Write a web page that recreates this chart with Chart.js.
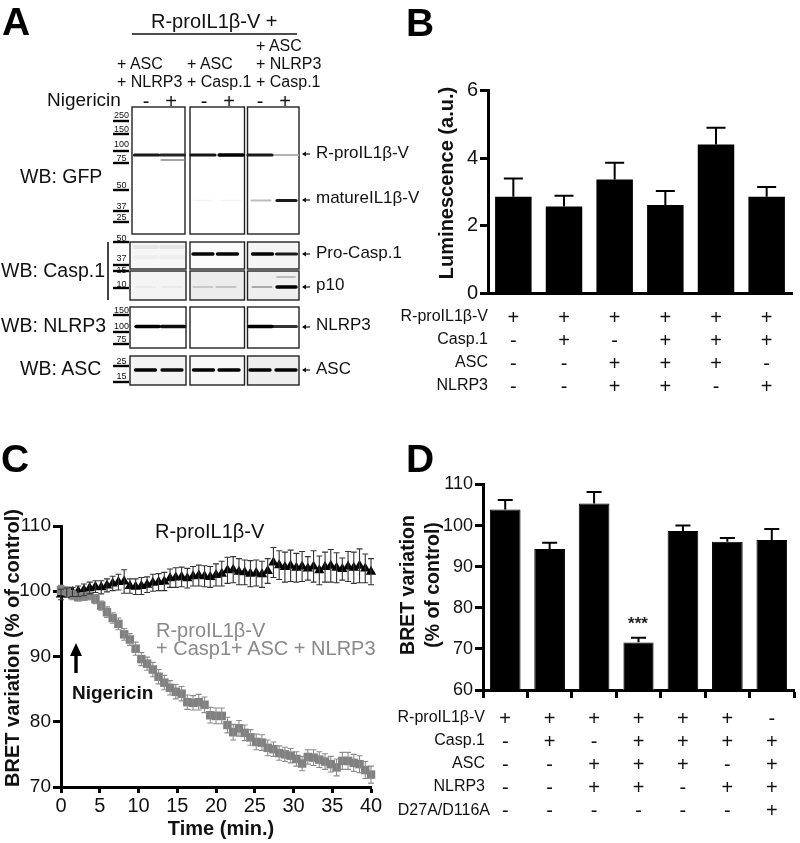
<!DOCTYPE html>
<html><head><meta charset="utf-8">
<style>
html,body{margin:0;padding:0;background:#fff;width:800px;height:843px;overflow:hidden}
#fig{position:relative;width:800px;height:843px;font-family:"Liberation Sans",Arial,sans-serif;color:#111;filter:blur(0.35px);background:#fff}
canvas,svg{position:absolute}
.t{position:absolute;white-space:nowrap;line-height:1}
</style>
<script src="https://cdn.jsdelivr.net/npm/chart.js@4"></script>
</head><body><div id="fig"><svg id="under" width="800" height="843" style="left:0;top:0"></svg></div>
<script>
/* ---------- Panel A: band intensity per lane (0 = none, 1 = darkest) ---------- */
const gfpPro    = [.9,.85,.92,1,.9,.28];
const gfpLower  = [0,.35,0,0,0,0];
const gfpMature = [0,0,.03,.03,.25,.9];
const caspFaintA= [.08,.09,0,0,0,0];
const caspFaintB= [.05,.05,0,0,0,0];
const caspPro   = [0,0,.98,.98,1,.9];
const p10Upper  = [0,0,0,0,0,.25];
const p10Band   = [.08,.08,.2,.22,.32,1];
const nlrp3Band = [1,.95,0,0,1,.8];
const ascBand   = [1,.95,1,1,1,1];

/* ---------- Panel B ---------- */
const bCategories = ['1','2','3','4','5','6'];
const bValues  = [2.85,2.56,3.36,2.61,4.40,2.85];
const bErrTop  = [3.39,2.88,3.86,3.02,4.90,3.14];
const bYTicks  = [0,2,4,6];
const bRowNames= ['R-proIL1β-V','Casp.1','ASC','NLRP3'];
const bProIL   = ['+','+','+','+','+','+'];
const bCasp    = ['-','+','-','+','+','+'];
const bAsc     = ['-','-','+','+','+','-'];
const bNlrp    = ['-','-','+','+','-','+'];

/* ---------- Panel C ---------- */
const cTime = [0,0.74,1.48,2.22,2.96,3.7,4.44,5.19,5.93,6.67,7.41,8.15,8.89,9.63,10.37,11.11,11.85,12.59,13.33,14.07,14.81,15.56,16.3,17.04,17.78,18.52,19.26,20,20.74,21.48,22.22,22.96,23.7,24.44,25.19,25.93,26.67,27.41,28.15,28.89,29.63,30.37,31.11,31.85,32.59,33.33,34.07,34.81,35.56,36.3,37.04,37.78,38.52,39.26,40];
const cControl = [99.5,99.8,99.9,100,100.2,100.5,100.7,100.6,100.9,101.2,101.4,101.5,100.8,100.7,100.8,101,101.3,101.4,101.5,102,102.1,102.2,102,102.3,102.4,102.3,102.2,102.5,102.7,103.2,103.3,103,102.9,102.7,102.8,102.6,103.1,104.4,104,103.7,103.9,103.6,103.8,103.5,103.8,103.2,103.7,103.9,103.6,103.4,103.8,103.6,103.9,103.5,103];
const cControlErr = [.8,.7,.7,.8,.9,.9,.9,1,1,1.1,1.2,1.8,1.1,1.2,1.3,1.2,1.3,1.3,1.4,1.4,1.5,1.5,1.5,1.5,1.6,1.6,1.6,1.7,1.9,2,2,2,1.9,2,2,2,1.9,2.3,2.2,2.3,2.4,2.2,2.3,1.8,2.4,2.2,2.3,2.5,2.3,1.7,2.3,2.4,2.6,2.2,2];
const cTreated = [100.2,100,99.4,99.1,99.2,99.3,98.8,97.8,96.8,95.9,95,93.4,92.6,91.2,89.6,88.9,88,86.9,86,85.2,84.6,84.3,83,82.9,83,82.6,81,80.9,80.9,79.5,78.4,79,78.3,77.6,76.9,76.8,76,75.8,75.2,75,74.8,74.3,73.6,74.6,74.5,74.2,73.9,73.5,73,74,74,73.7,73.5,72.6,71.9];
const cTreatedErr = [.7,.7,.7,.6,.6,.6,.7,.7,.8,.8,.9,.9,.9,1,1,1,1.1,1.1,1.1,1.1,1.1,1.1,1.1,1.1,1.2,1.2,1.2,1.2,1.2,1.2,1.2,1.2,1.2,1.2,1.2,1.2,1.2,1.1,1.1,1.1,1.1,1.1,1.1,1.1,1.2,1.2,1.2,1.2,1.3,1.3,1.3,1.3,1.3,1.3,1.3];

/* ---------- Panel D ---------- */
const dCategories = ['1','2','3','4','5','6','7'];
const dValues = [103.9,94.3,105.4,71.6,98.7,96.1,96.5];
const dErrTop = [106.2,95.8,108.2,72.7,100,97,99.2];
const dRowNames = ['R-proIL1β-V','Casp.1','ASC','NLRP3','D27A/D116A'];
const dProIL = ['+','+','+','+','+','+','-'];
const dCasp  = ['-','+','-','+','+','+','+'];
const dAsc   = ['-','-','+','+','+','-','+'];
const dNlrp  = ['-','-','+','+','-','+','+'];
const dMut   = ['-','-','-','-','-','-','+'];

/* ---------- Panel A ladders ---------- */
const ladderGfp  = ['250','150','100','75','50','37','25'];
const ladderCasp = ['50','37','15','10'];
const ladderNlrp = ['150','100','75'];
const ladderAsc  = ['25','15'];

/* ========== layout and drawing below ========== */
const fig = document.getElementById('fig');
const under = document.getElementById('under');
const NS = 'http://www.w3.org/2000/svg';
const FONT = '"Liberation Sans",Arial,sans-serif';
function txt(s,x,y,o={}){
  const e=document.createElement('div');e.className='t';e.textContent=s;
  e.style.left=x+'px';e.style.top=y+'px';
  e.style.fontSize=(o.size||16)+'px';
  if(o.bold)e.style.fontWeight='bold';
  if(o.color)e.style.color=o.color;
  const ax=o.align==='right'?'-100%':o.align==='center'?'-50%':'0';
  e.style.transform=`translate(${ax},-50%)`+(o.rot?` rotate(${o.rot}deg)`:'');
  fig.appendChild(e);
}
function svg(tag,attrs,parent){
  const e=document.createElementNS(NS,tag);
  for(const k in attrs)e.setAttribute(k,attrs[k]);
  (parent||under).appendChild(e);return e;
}
function rect(x1,y1,x2,y2,fill){svg('rect',{x:x1,y:y1,width:x2-x1,height:y2-y1,fill:fill||'#fff',stroke:'#222','stroke-width':1.4});}
function line(x1,y1,x2,y2,w,c){svg('line',{x1,y1,x2,y2,'stroke-width':w,stroke:c||'#111'});}

/* panel letters */
txt('A',2,21,{size:39,bold:true,color:'#000'});
txt('B',406,22,{size:39,bold:true,color:'#000'});
txt('C',1,458,{size:39,bold:true,color:'#000'});
txt('D',406,458,{size:39,bold:true,color:'#000'});

/* Panel A text */
txt('R-proIL1β-V +',151,21,{size:20});
line(132,34,297,34,1.6);
txt('+ ASC',117,64,{});txt('+ NLRP3',117,82,{});
txt('+ ASC',187,64,{});txt('+ Casp.1',187,82,{});
txt('+ ASC',256,46,{});txt('+ NLRP3',256,64,{});txt('+ Casp.1',256,82,{});
txt('Nigericin',47,99,{size:19});
[146,171,204,229,260,285].forEach((x,i)=>txt(i%2?'+':'-',x,101,{size:20,align:'center'}));
txt('WB: GFP',20,177,{size:19.5});
txt('WB: Casp.1',1,271,{size:19.5});
txt('WB: NLRP3',1,326,{size:19.5});
txt('WB: ASC',20,369,{size:19.5});
line(108,242,108,300,2,'#444');

/* frames */
[[132,107,185,234],[190,107,244.5,234],[247.5,107,299,234]].forEach(b=>rect(...b));
rect(130,242,186,269,'#f6f6f6');rect(190,242,244.5,269,'#fafafa');rect(247.5,242,299,269,'#f4f4f4');
rect(130,271,186,300,'#f4f4f4');rect(190,271,244.5,300,'#ececec');rect(247.5,271,299,300,'#efefef');
rect(130,307,186,348);rect(190,307,244.5,348);rect(247.5,307,299,348);
rect(130,356,186,385,'#f3f3f3');rect(190,356,244.5,385,'#f8f8f8');rect(247.5,356,299,385,'#eeeeee');

/* ladders: label centre y, tick y */
function ladder(labels,labelY,tickY){
  labels.forEach((s,i)=>{ txt(s,121.5,labelY[i],{size:9,align:'center'}); line(113,tickY[i],129,tickY[i],2.4,'#000'); });
}
ladder(ladderGfp,[115,129,144,158,185,206,217],[121,134,151,163,190,211,222]);
ladder(ladderCasp,[238,258,270,284],[242,265,271,288]);
ladder(ladderNlrp,[310,326,339],[315,332,344]);
ladder(ladderAsc,[361,376],[366,382]);

/* side labels with arrows */
const arrowSvg=document.createElementNS(NS,'svg');
arrowSvg.setAttribute('width',800);arrowSvg.setAttribute('height',843);arrowSvg.style.left='0';arrowSvg.style.top='0';arrowSvg.style.zIndex=5;
fig.appendChild(arrowSvg);
function smallArrow(y){
  svg('line',{x1:303,y1:y,x2:310,y2:y,stroke:'#111','stroke-width':1.2},arrowSvg);
  svg('polygon',{points:`302,${y} 306,${y-2.4} 306,${y+2.4}`,fill:'#111'},arrowSvg);
}
[['R-proIL1β-V',152,154],['matureIL1β-V',197,200],['Pro-Casp.1',252,254],['p10',284,287],['NLRP3',324,327],['ASC',368,370]].forEach(r=>{
  txt(r[0],316,r[1],{size:17});smallArrow(r[2]);
});

/* row labels under bars */
bRowNames.forEach((s,i)=>txt(s,488,[316,339,362,385][i],{size:16,align:'right'}));
dRowNames.forEach((s,i)=>txt(s,i===4?490:485,[717,740,763,786,810][i],{size:16,align:'right'}));

/* axis titles and annotations */
txt('Luminescence (a.u.)',446,183,{size:20,bold:true,align:'center',rot:-90});
txt('BRET variation (% of control)',12,648,{size:20,bold:true,align:'center',rot:-90});
txt('Time (min.)',221,828,{size:20,bold:true,align:'center'});
txt('BRET variation',408,585,{size:19.5,bold:true,align:'center',rot:-90});
txt('(% of control)',433,585,{size:19.5,bold:true,align:'center',rot:-90});
txt('***',638,623,{size:17,bold:true,align:'center',color:'#222'});
txt('R-proIL1β-V',155,531,{size:20});
txt('R-proIL1β-V',156,630,{size:20,color:'#8a8a8a'});
txt('+ Casp1+ ASC + NLRP3',156,648,{size:20,color:'#8a8a8a'});
txt('Nigericin',72,692,{size:19,bold:true});
/* nigericin arrow */
svg('line',{x1:76,y1:673,x2:76,y2:654,stroke:'#000','stroke-width':3.4},arrowSvg);
svg('polygon',{points:'76,643 70,656 82,656',fill:'#000'},arrowSvg);

/* chart helpers: each canvas has an exact plot area */
function mk(id,left,top,w,h){
  const c=document.createElement('canvas');c.id=id;c.width=w;c.height=h;
  c.style.left=left+'px';c.style.top=top+'px';c.style.width=w+'px';c.style.height=h+'px';
  fig.appendChild(c);return c;
}
const fixW=w=>s=>{s.width=w};
const fixH=h=>s=>{s.height=h};
function errPlugin(dsIndex,tops,capHalf,width,color){
  return {id:'err'+dsIndex,afterDatasetsDraw(ch){
    const m=ch.getDatasetMeta(dsIndex),y=ch.scales.y,ctx=ch.ctx;
    ctx.save();ctx.strokeStyle=color;ctx.lineWidth=width;
    m.data.forEach((el,i)=>{
      const yt=y.getPixelForValue(tops[i]);
      ctx.beginPath();ctx.moveTo(el.x,el.y);ctx.lineTo(el.x,yt);
      ctx.moveTo(el.x-capHalf,yt);ctx.lineTo(el.x+capHalf,yt);ctx.stroke();
    });ctx.restore();
  }};
}
const baseOpts={responsive:false,animation:false,events:[],plugins:{legend:{display:false},tooltip:{enabled:false},title:{display:false}}};
function yAxis(min,max,ticks,size,w){
  return {min,max,afterFit:fixW(w),
    afterBuildTicks:s=>{s.ticks=ticks.map(v=>({value:v}))},
    border:{display:true,width:3,color:'#000'},
    grid:{display:true,drawOnChartArea:false,drawTicks:true,tickLength:8,tickWidth:3,tickColor:'#000'},
    ticks:{color:'#111',padding:2,font:{family:FONT,size},autoSkip:false}};
}

/* Panel A chart: bands along lanes; hidden axes span the canvas */
const aLanes=[146.5,172.5,203,231,260,286];
const blotRows=[
 {v:gfpPro,y:155,x:aLanes,h:12},
 {v:gfpLower,y:160,x:aLanes,h:11},
 {v:gfpMature,y:200.5,x:[146,172,203,231,261,286.5],h:9.5},
 {v:caspFaintA,y:247,x:[146,172,0,0,0,0],h:11,haze:true},
 {v:caspFaintB,y:257,x:[146,172,0,0,0,0],h:11,haze:true},
 {v:caspPro,y:254,x:[146,172,203,227.5,262.5,286.5],h:10},
 {v:p10Upper,y:277,x:aLanes,h:9},
 {v:p10Band,y:287,x:[146,172,203,226,262,286.5],h:9.5},
 {v:nlrp3Band,y:326.5,x:[147.5,173,203,231,260.5,285],h:11.5},
 {v:ascBand,y:370,x:[145.5,172,203.5,229,260,286],h:10}
];
const aDatasets=[];
blotRows.forEach(r=>r.v.forEach((k,i)=>{
  if(!k)return;
  const g=Math.round(250*(1-k));
  aDatasets.push({data:[{x:r.x[i]-r.h,y:r.y},{x:r.x[i]+r.h,y:r.y}],
    borderColor:`rgb(${g},${g},${g})`,borderWidth:r.haze?4:1.4+2*k,borderCapStyle:'round',pointRadius:0,tension:0});
}));
new Chart(mk('chartA',0,0,420,410),{type:'line',data:{datasets:aDatasets},
  options:{...baseOpts,parsing:false,layout:{padding:0},
    scales:{x:{type:'linear',display:false,min:0,max:420},y:{type:'linear',display:false,min:0,max:410,reverse:true}}},
  plugins:[{id:'soft',beforeDatasetsDraw(ch){ch.ctx.filter='blur(0.5px)'},afterDatasetsDraw(ch){ch.ctx.filter='none'}}]});

/* Panel B: plot 488..792 x 90.5..293 */
const bLabels=bCategories.map((_,i)=>[bProIL[i],bCasp[i],bAsc[i],bNlrp[i]]);
new Chart(mk('chartB',400,70,400,330),{type:'bar',
  data:{labels:bLabels,datasets:[{data:bValues,backgroundColor:'#000',categoryPercentage:1,barPercentage:.72}]},
  options:{...baseOpts,layout:{padding:{top:20.5,right:8,left:0,bottom:0}},
    scales:{
      x:{afterFit:fixH(107),border:{display:true,width:3,color:'#000'},grid:{display:false},
         ticks:{color:'#111',padding:6,maxRotation:0,autoSkip:false,font:{family:FONT,size:20,lineHeight:23/20}}},
      y:yAxis(0,6,bYTicks,20,88)}},
  plugins:[errPlugin(0,bErrTop,9.5,2,'#000')]});

/* Panel C: plot 61..371 x 526..787 */
const cControlPts=cTime.map((t,i)=>({x:t,y:cControl[i]}));
const cTreatedPts=cTime.map((t,i)=>({x:t,y:cTreated[i]}));
function cErr(ds,vals,errs,color){
  return {id:'cerr'+ds,afterDatasetsDraw(ch){
    const m=ch.getDatasetMeta(ds),y=ch.scales.y,ctx=ch.ctx;
    ctx.save();ctx.strokeStyle=color;ctx.lineWidth=1.1;
    m.data.forEach((el,i)=>{
      const a=y.getPixelForValue(vals[i]+errs[i]),b=y.getPixelForValue(vals[i]-errs[i]);
      ctx.beginPath();ctx.moveTo(el.x,a);ctx.lineTo(el.x,b);
      ctx.moveTo(el.x-3,a);ctx.lineTo(el.x+3,a);ctx.moveTo(el.x-3,b);ctx.lineTo(el.x+3,b);ctx.stroke();
    });ctx.restore();
  }};
}
new Chart(mk('chartC',14,510,386,310),{type:'scatter',
  data:{datasets:[
    {data:cTreatedPts,pointStyle:'rect',pointRadius:6,backgroundColor:'#808080',borderColor:'#808080',pointBorderWidth:0,showLine:false,clip:false},
    {data:cControlPts,pointStyle:'triangle',pointRadius:6,backgroundColor:'#000',borderColor:'#000',pointBorderWidth:0,showLine:false,clip:false}]},
  options:{...baseOpts,layout:{padding:{top:16,right:29,left:0,bottom:0}},
    scales:{
      x:{type:'linear',min:0,max:40,afterFit:fixH(33),border:{display:true,width:3,color:'#000'},
         grid:{display:true,drawOnChartArea:false,drawTicks:true,tickLength:6,tickWidth:3,tickColor:'#000'},
         ticks:{stepSize:5,color:'#111',padding:1,maxRotation:0,font:{family:FONT,size:20}}},
      y:yAxis(70,110,[70,80,90,100,110],19,47)}},
  plugins:[cErr(0,cTreated,cTreatedErr,'#8c8c8c'),cErr(1,cControl,cControlErr,'#333')]});

/* Panel D: plot 483..794 x 484.5..690 */
const dLabels=dCategories.map((_,i)=>[dProIL[i],dCasp[i],dAsc[i],dNlrp[i],dMut[i]]);
new Chart(mk('chartD',400,470,400,360),{type:'bar',
  data:{labels:dLabels,datasets:[{data:dValues,backgroundColor:'#000',borderColor:['#000','#000','#000','#888','#000','#000','#000'],borderWidth:1,categoryPercentage:1,barPercentage:.69}]},
  options:{...baseOpts,layout:{padding:{top:14.5,right:6,left:0,bottom:0}},
    scales:{
      x:{afterFit:fixH(140),border:{display:true,width:3,color:'#000'},
         grid:{display:true,drawOnChartArea:false,drawTicks:true,tickLength:8,tickWidth:3,tickColor:'#000'},
         ticks:{color:'#111',padding:9.5,maxRotation:0,autoSkip:false,font:{family:FONT,size:20,lineHeight:23.2/20}}},
      y:yAxis(60,110,[60,70,80,90,100,110],18,83)}},
  plugins:[errPlugin(0,dErrTop,7.5,2,'#000')]});
</script></body></html>
